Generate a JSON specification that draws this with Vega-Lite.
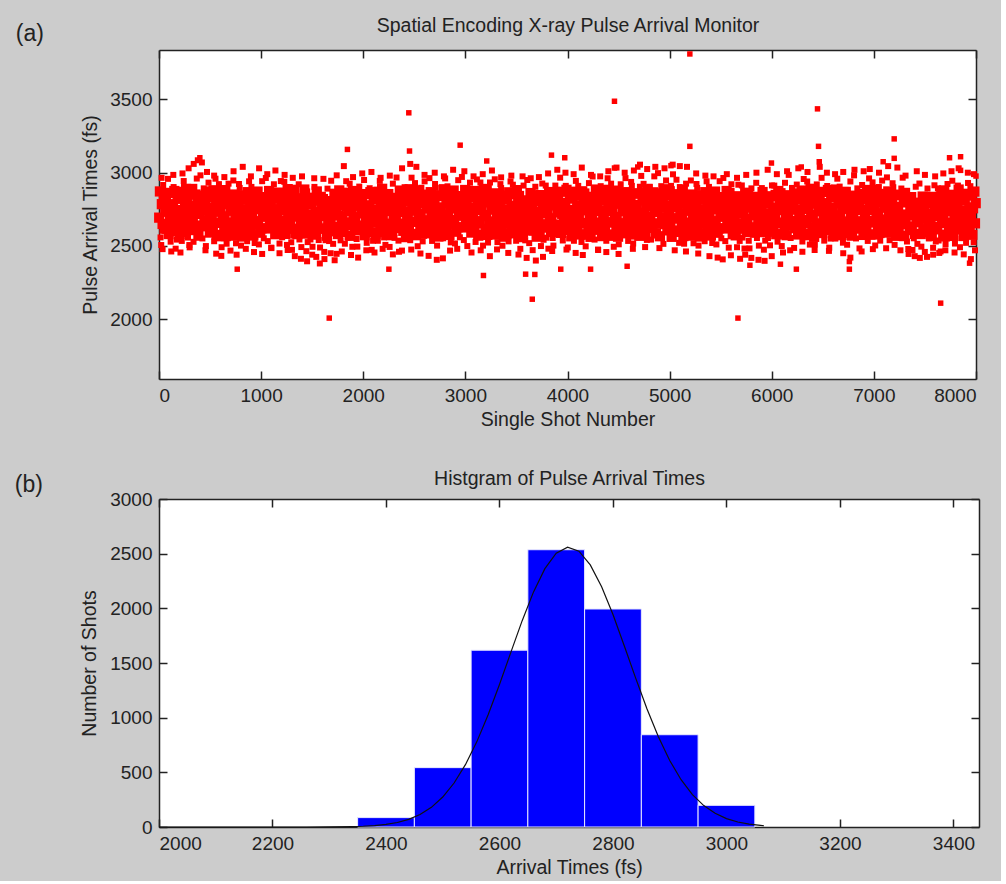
{
"$schema": "https://vega.github.io/schema/vega-lite/v6.json",
"background": "#cccccc",
"padding": {"left": 14, "top": 15, "right": 20, "bottom": 4},
"config": {
  "font": "Liberation Sans",
  "view": {"fill": "white", "stroke": null},
  "concat": {"spacing": 39},
  "axis": {"labelFont": "Liberation Sans", "labelFontSize": 19, "labelColor": "#222", "titleFont": "Liberation Sans", "titleFontSize": 19.5, "titleFontWeight": "normal", "titleColor": "#222", "domainColor": "#222", "domainWidth": 1.5, "tickColor": "#222", "tickWidth": 1.5, "tickSize": -8, "labelPadding": 15, "grid": false, "format": "d"},
  "title": {"font": "Liberation Sans", "fontSize": 23, "fontWeight": "normal", "color": "#222"}
},
"vconcat": [
{
  "width": 817, "height": 329,
  "title": {"text": "(a)", "anchor": "start", "frame": "bounds", "dx": -65, "dy": 31, "offset": 0},
  "data": {"values": "s,t\n2,2693\n9,2872\n15,2558\n22,2506\n28,2785\n35,2650\n41,2916\n48,2825\n54,2618\n61,2733\n69,2823\n75,2617\n82,2752\n88,2958\n95,2581\n101,2862\n108,2711\n114,2529\n121,2784\n127,2670\n130,2641\n137,2783\n143,2902\n150,2875\n156,2601\n163,2481\n169,2730\n176,2543\n182,2824\n189,2694\n197,2745\n203,2584\n210,2822\n216,2660\n223,2534\n229,2869\n236,2691\n242,2943\n249,2627\n255,2776\n258,2594\n265,2889\n271,2689\n278,2825\n284,2557\n291,2738\n297,2506\n304,2852\n310,2635\n317,2773\n325,2889\n331,2687\n338,2528\n344,2774\n351,2608\n357,2851\n364,2638\n370,2960\n377,2719\n383,2820\n386,2570\n393,2791\n399,2718\n406,2982\n412,2843\n419,2637\n425,2551\n432,2746\n438,2893\n445,2668\n453,2804\n459,2499\n466,2872\n472,2634\n479,2762\n485,2932\n492,2680\n498,2591\n505,2833\n511,2726\n514,2714\n521,2843\n527,2613\n534,2880\n540,2532\n547,2658\n553,2959\n560,2790\n566,2575\n573,2761\n581,2658\n587,2922\n594,2566\n600,2733\n607,2823\n613,2491\n620,2872\n626,2693\n633,2786\n639,2605\n642,2702\n649,2881\n655,2567\n662,2515\n668,2794\n675,2659\n681,2925\n688,2834\n694,2627\n701,2742\n709,2812\n715,2606\n722,2741\n728,2947\n735,2570\n741,2851\n748,2700\n754,2518\n761,2773\n767,2659\n770,2662\n777,2804\n783,2923\n790,2896\n796,2622\n803,2502\n809,2751\n816,2564\n822,2845\n829,2715\n837,2743\n843,2582\n850,2820\n856,2658\n863,2532\n869,2867\n876,2689\n882,2941\n889,2625\n895,2774\n898,2608\n905,2903\n911,2703\n918,2839\n924,2571\n931,2752\n937,2520\n944,2866\n950,2649\n957,2787\n965,2871\n971,2669\n978,2510\n984,2756\n991,2590\n997,2833\n1004,2620\n1010,2942\n1017,2701\n1023,2802\n1026,2552\n1033,2773\n1039,2700\n1046,2964\n1052,2825\n1059,2619\n1065,2533\n1072,2728\n1078,2875\n1085,2650\n1093,2793\n1099,2488\n1106,2861\n1112,2623\n1119,2751\n1125,2921\n1132,2669\n1138,2580\n1145,2822\n1151,2715\n1154,2698\n1161,2827\n1167,2597\n1174,2864\n1180,2516\n1187,2642\n1193,2943\n1200,2774\n1206,2559\n1213,2745\n1221,2674\n1227,2938\n1234,2582\n1240,2749\n1247,2839\n1253,2507\n1260,2888\n1266,2709\n1273,2802\n1279,2621\n1282,2660\n1289,2839\n1295,2525\n1302,2473\n1308,2752\n1315,2617\n1321,2883\n1328,2792\n1334,2585\n1341,2700\n1349,2786\n1355,2580\n1362,2715\n1368,2921\n1375,2544\n1381,2825\n1388,2674\n1394,2492\n1401,2747\n1407,2633\n1410,2624\n1417,2766\n1423,2885\n1430,2858\n1436,2584\n1443,2464\n1449,2713\n1456,2526\n1462,2807\n1469,2677\n1477,2705\n1483,2544\n1490,2782\n1496,2620\n1503,2494\n1509,2829\n1516,2651\n1522,2903\n1529,2587\n1535,2736\n1538,2577\n1545,2872\n1551,2672\n1558,2808\n1564,2540\n1571,2721\n1577,2489\n1584,2835\n1590,2618\n1597,2756\n1605,2820\n1611,2618\n1618,2459\n1624,2705\n1631,2539\n1637,2782\n1644,2569\n1650,2891\n1657,2650\n1663,2751\n1666,2533\n1673,2754\n1679,2681\n1686,2945\n1692,2806\n1699,2600\n1705,2514\n1712,2709\n1718,2856\n1725,2631\n1733,2751\n1739,2446\n1746,2819\n1752,2581\n1759,2709\n1765,2879\n1772,2627\n1778,2538\n1785,2780\n1791,2673\n1794,2697\n1801,2826\n1807,2596\n1814,2863\n1820,2515\n1827,2641\n1833,2942\n1840,2773\n1846,2558\n1853,2744\n1861,2661\n1867,2925\n1874,2569\n1880,2736\n1887,2826\n1893,2494\n1900,2875\n1906,2696\n1913,2789\n1919,2608\n1922,2682\n1929,2861\n1935,2547\n1942,2495\n1948,2774\n1955,2639\n1961,2905\n1968,2814\n1974,2607\n1981,2722\n1989,2815\n1995,2609\n2002,2744\n2008,2950\n2015,2573\n2021,2854\n2028,2703\n2034,2521\n2041,2776\n2047,2662\n2050,2633\n2057,2775\n2063,2894\n2070,2867\n2076,2593\n2083,2473\n2089,2722\n2096,2535\n2102,2816\n2109,2686\n2117,2746\n2123,2585\n2130,2823\n2136,2661\n2143,2535\n2149,2870\n2156,2692\n2162,2944\n2169,2628\n2175,2777\n2178,2595\n2185,2890\n2191,2690\n2198,2826\n2204,2558\n2211,2739\n2217,2507\n2224,2853\n2230,2636\n2237,2774\n2245,2854\n2251,2652\n2258,2493\n2264,2739\n2271,2573\n2277,2816\n2284,2603\n2290,2925\n2297,2684\n2303,2785\n2306,2555\n2313,2776\n2319,2703\n2326,2967\n2332,2828\n2339,2622\n2345,2536\n2352,2731\n2358,2878\n2365,2653\n2373,2773\n2379,2468\n2386,2841\n2392,2603\n2399,2731\n2405,2901\n2412,2649\n2418,2560\n2425,2802\n2431,2695\n2434,2721\n2441,2850\n2447,2620\n2454,2887\n2460,2539\n2467,2665\n2473,2966\n2480,2797\n2486,2582\n2493,2768\n2501,2665\n2507,2929\n2514,2573\n2520,2740\n2527,2830\n2533,2498\n2540,2879\n2546,2700\n2553,2793\n2559,2612\n2562,2718\n2569,2897\n2575,2583\n2582,2531\n2588,2810\n2595,2675\n2601,2941\n2608,2850\n2614,2643\n2621,2758\n2629,2828\n2635,2622\n2642,2757\n2648,2963\n2655,2586\n2661,2867\n2668,2716\n2674,2534\n2681,2789\n2687,2675\n2690,2662\n2697,2804\n2703,2923\n2710,2896\n2716,2622\n2723,2502\n2729,2751\n2736,2564\n2742,2845\n2749,2715\n2757,2763\n2763,2602\n2770,2840\n2776,2678\n2783,2552\n2789,2887\n2796,2709\n2802,2961\n2809,2645\n2815,2794\n2818,2612\n2825,2907\n2831,2707\n2838,2843\n2844,2575\n2851,2756\n2857,2524\n2864,2870\n2870,2653\n2877,2791\n2885,2878\n2891,2676\n2898,2517\n2904,2763\n2911,2597\n2917,2840\n2924,2627\n2930,2949\n2937,2708\n2943,2809\n2946,2559\n2953,2780\n2959,2707\n2966,2971\n2972,2832\n2979,2626\n2985,2540\n2992,2735\n2998,2882\n3005,2657\n3013,2804\n3019,2499\n3026,2872\n3032,2634\n3039,2762\n3045,2932\n3052,2680\n3058,2591\n3065,2833\n3071,2726\n3074,2709\n3081,2838\n3087,2608\n3094,2875\n3100,2527\n3107,2653\n3113,2954\n3120,2785\n3126,2570\n3133,2756\n3141,2669\n3147,2933\n3154,2577\n3160,2744\n3167,2834\n3173,2502\n3180,2883\n3186,2704\n3193,2797\n3199,2616\n3202,2710\n3209,2889\n3215,2575\n3222,2523\n3228,2802\n3235,2667\n3241,2933\n3248,2842\n3254,2635\n3261,2750\n3269,2820\n3275,2614\n3282,2749\n3288,2955\n3295,2578\n3301,2859\n3308,2708\n3314,2526\n3321,2781\n3327,2667\n3330,2661\n3337,2803\n3343,2922\n3350,2895\n3356,2621\n3363,2501\n3369,2750\n3376,2563\n3382,2844\n3389,2714\n3397,2742\n3403,2581\n3410,2819\n3416,2657\n3423,2531\n3429,2866\n3436,2688\n3442,2940\n3449,2624\n3455,2773\n3458,2623\n3465,2918\n3471,2718\n3478,2854\n3484,2586\n3491,2767\n3497,2535\n3504,2881\n3510,2664\n3517,2802\n3525,2841\n3531,2639\n3538,2480\n3544,2726\n3551,2560\n3557,2803\n3564,2590\n3570,2912\n3577,2671\n3583,2772\n3586,2538\n3593,2759\n3599,2686\n3606,2950\n3612,2811\n3619,2605\n3625,2519\n3632,2714\n3638,2861\n3645,2636\n3653,2776\n3659,2471\n3666,2844\n3672,2606\n3679,2734\n3685,2904\n3692,2652\n3698,2563\n3705,2805\n3711,2698\n3714,2681\n3721,2810\n3727,2580\n3734,2847\n3740,2499\n3747,2625\n3753,2926\n3760,2757\n3766,2542\n3773,2728\n3781,2648\n3787,2912\n3794,2556\n3800,2723\n3807,2813\n3813,2481\n3820,2862\n3826,2683\n3833,2776\n3839,2595\n3842,2689\n3849,2868\n3855,2554\n3862,2502\n3868,2781\n3875,2646\n3881,2912\n3888,2821\n3894,2614\n3901,2729\n3909,2831\n3915,2625\n3922,2760\n3928,2966\n3935,2589\n3941,2870\n3948,2719\n3954,2537\n3961,2792\n3967,2678\n3970,2649\n3977,2791\n3983,2910\n3990,2883\n3996,2609\n4003,2489\n4009,2738\n4016,2551\n4022,2832\n4029,2702\n4037,2746\n4043,2585\n4050,2823\n4056,2661\n4063,2535\n4069,2870\n4076,2692\n4082,2944\n4089,2628\n4095,2777\n4098,2615\n4105,2910\n4111,2710\n4118,2846\n4124,2578\n4131,2759\n4137,2527\n4144,2873\n4150,2656\n4157,2794\n4165,2858\n4171,2656\n4178,2497\n4184,2743\n4191,2577\n4197,2820\n4204,2607\n4210,2929\n4217,2688\n4223,2789\n4226,2562\n4233,2783\n4239,2710\n4246,2974\n4252,2835\n4259,2629\n4265,2543\n4272,2738\n4278,2885\n4285,2660\n4293,2780\n4299,2475\n4306,2848\n4312,2610\n4319,2738\n4325,2908\n4332,2656\n4338,2567\n4345,2809\n4351,2702\n4354,2717\n4361,2846\n4367,2616\n4374,2883\n4380,2535\n4387,2661\n4393,2962\n4400,2793\n4406,2578\n4413,2764\n4421,2661\n4427,2925\n4434,2569\n4440,2736\n4447,2826\n4453,2494\n4460,2875\n4466,2696\n4473,2789\n4479,2608\n4482,2698\n4489,2877\n4495,2563\n4502,2511\n4508,2790\n4515,2655\n4521,2921\n4528,2830\n4534,2623\n4541,2738\n4549,2828\n4555,2622\n4562,2757\n4568,2963\n4575,2586\n4581,2867\n4588,2716\n4594,2534\n4601,2789\n4607,2675\n4610,2676\n4617,2818\n4623,2937\n4630,2910\n4636,2636\n4643,2516\n4649,2765\n4656,2578\n4662,2859\n4669,2729\n4677,2780\n4683,2619\n4690,2857\n4696,2695\n4703,2569\n4709,2904\n4716,2726\n4722,2978\n4729,2662\n4735,2811\n4738,2629\n4745,2924\n4751,2724\n4758,2860\n4764,2592\n4771,2773\n4777,2541\n4784,2887\n4790,2670\n4797,2808\n4805,2904\n4811,2702\n4818,2543\n4824,2789\n4831,2623\n4837,2866\n4844,2653\n4850,2975\n4857,2734\n4863,2835\n4866,2585\n4873,2806\n4879,2733\n4886,2997\n4892,2858\n4899,2652\n4905,2566\n4912,2761\n4918,2908\n4925,2683\n4933,2819\n4939,2514\n4946,2887\n4952,2649\n4959,2777\n4965,2947\n4972,2695\n4978,2606\n4985,2848\n4991,2741\n4994,2744\n5001,2873\n5007,2643\n5014,2910\n5020,2562\n5027,2688\n5033,2989\n5040,2820\n5046,2605\n5053,2791\n5061,2688\n5067,2952\n5074,2596\n5080,2763\n5087,2853\n5093,2521\n5100,2902\n5106,2723\n5113,2816\n5119,2635\n5122,2702\n5129,2881\n5135,2567\n5142,2515\n5148,2794\n5155,2659\n5161,2925\n5168,2834\n5174,2627\n5181,2742\n5189,2812\n5195,2606\n5202,2741\n5208,2947\n5215,2570\n5221,2851\n5228,2700\n5234,2518\n5241,2773\n5247,2659\n5250,2662\n5257,2804\n5263,2923\n5270,2896\n5276,2622\n5283,2502\n5289,2751\n5296,2564\n5302,2845\n5309,2715\n5317,2743\n5323,2582\n5330,2820\n5336,2658\n5343,2532\n5349,2867\n5356,2689\n5362,2941\n5369,2625\n5375,2774\n5378,2608\n5385,2903\n5391,2703\n5398,2839\n5404,2571\n5411,2752\n5417,2520\n5424,2866\n5430,2649\n5437,2787\n5445,2871\n5451,2669\n5458,2510\n5464,2756\n5471,2590\n5477,2833\n5484,2620\n5490,2942\n5497,2701\n5503,2802\n5506,2552\n5513,2773\n5519,2700\n5526,2964\n5532,2825\n5539,2619\n5545,2533\n5552,2728\n5558,2875\n5565,2650\n5573,2793\n5579,2488\n5586,2861\n5592,2623\n5599,2751\n5605,2921\n5612,2669\n5618,2580\n5625,2822\n5631,2715\n5634,2673\n5641,2802\n5647,2572\n5654,2839\n5660,2491\n5667,2617\n5673,2918\n5680,2749\n5686,2534\n5693,2720\n5701,2649\n5707,2913\n5714,2557\n5720,2724\n5727,2814\n5733,2482\n5740,2863\n5746,2684\n5753,2777\n5759,2596\n5762,2670\n5769,2849\n5775,2535\n5782,2483\n5788,2762\n5795,2627\n5801,2893\n5808,2802\n5814,2595\n5821,2710\n5829,2796\n5835,2590\n5842,2725\n5848,2931\n5855,2554\n5861,2835\n5868,2684\n5874,2502\n5881,2757\n5887,2643\n5890,2634\n5897,2776\n5903,2895\n5910,2868\n5916,2594\n5923,2474\n5929,2723\n5936,2536\n5942,2817\n5949,2687\n5957,2715\n5963,2554\n5970,2792\n5976,2630\n5983,2504\n5989,2839\n5996,2661\n6002,2913\n6009,2597\n6015,2746\n6018,2617\n6025,2912\n6031,2712\n6038,2848\n6044,2580\n6051,2761\n6057,2529\n6064,2875\n6070,2658\n6077,2796\n6085,2860\n6091,2658\n6098,2499\n6104,2745\n6111,2579\n6117,2822\n6124,2609\n6130,2931\n6137,2690\n6143,2791\n6146,2573\n6153,2794\n6159,2721\n6166,2985\n6172,2846\n6179,2640\n6185,2554\n6192,2749\n6198,2896\n6205,2671\n6213,2791\n6219,2486\n6226,2859\n6232,2621\n6239,2749\n6245,2919\n6252,2667\n6258,2578\n6265,2820\n6271,2713\n6274,2712\n6281,2841\n6287,2611\n6294,2878\n6300,2530\n6307,2656\n6313,2957\n6320,2788\n6326,2573\n6333,2759\n6341,2676\n6347,2940\n6354,2584\n6360,2751\n6367,2841\n6373,2509\n6380,2890\n6386,2711\n6393,2804\n6399,2623\n6402,2697\n6409,2876\n6415,2562\n6422,2510\n6428,2789\n6435,2654\n6441,2920\n6448,2829\n6454,2622\n6461,2737\n6469,2830\n6475,2624\n6482,2759\n6488,2965\n6495,2588\n6501,2869\n6508,2718\n6514,2536\n6521,2791\n6527,2677\n6530,2648\n6537,2790\n6543,2909\n6550,2882\n6556,2608\n6563,2488\n6569,2737\n6576,2550\n6582,2831\n6589,2701\n6597,2761\n6603,2600\n6610,2838\n6616,2676\n6623,2550\n6629,2885\n6636,2707\n6642,2959\n6649,2643\n6655,2792\n6658,2610\n6665,2905\n6671,2705\n6678,2841\n6684,2573\n6691,2754\n6697,2522\n6704,2868\n6710,2651\n6717,2789\n6725,2869\n6731,2667\n6738,2508\n6744,2754\n6751,2588\n6757,2831\n6764,2618\n6770,2940\n6777,2699\n6783,2800\n6786,2570\n6793,2791\n6799,2718\n6806,2982\n6812,2843\n6819,2637\n6825,2551\n6832,2746\n6838,2893\n6845,2668\n6853,2788\n6859,2483\n6866,2856\n6872,2618\n6879,2746\n6885,2916\n6892,2664\n6898,2575\n6905,2817\n6911,2710\n6914,2716\n6921,2845\n6927,2615\n6934,2882\n6940,2534\n6947,2660\n6953,2961\n6960,2792\n6966,2577\n6973,2763\n6981,2670\n6987,2934\n6994,2578\n7000,2745\n7007,2835\n7013,2503\n7020,2884\n7026,2705\n7033,2798\n7039,2617\n7042,2723\n7049,2902\n7055,2588\n7062,2536\n7068,2815\n7075,2680\n7081,2946\n7088,2855\n7094,2648\n7101,2763\n7109,2833\n7115,2627\n7122,2762\n7128,2968\n7135,2591\n7141,2872\n7148,2721\n7154,2539\n7161,2794\n7167,2680\n7170,2667\n7177,2809\n7183,2928\n7190,2901\n7196,2627\n7203,2507\n7209,2756\n7216,2569\n7222,2850\n7229,2720\n7237,2768\n7243,2607\n7250,2845\n7256,2683\n7263,2557\n7269,2892\n7276,2714\n7282,2966\n7289,2650\n7295,2799\n7298,2567\n7305,2862\n7311,2662\n7318,2798\n7324,2530\n7331,2711\n7337,2479\n7344,2825\n7350,2608\n7357,2746\n7365,2833\n7371,2631\n7378,2472\n7384,2718\n7391,2552\n7397,2795\n7404,2582\n7410,2904\n7417,2663\n7423,2764\n7426,2514\n7433,2735\n7439,2662\n7446,2926\n7452,2787\n7459,2581\n7465,2495\n7472,2690\n7478,2837\n7485,2612\n7493,2764\n7499,2459\n7506,2832\n7512,2594\n7519,2722\n7525,2892\n7532,2640\n7538,2551\n7545,2793\n7551,2686\n7554,2669\n7561,2798\n7567,2568\n7574,2835\n7580,2487\n7587,2613\n7593,2914\n7600,2745\n7606,2530\n7613,2716\n7621,2629\n7627,2893\n7634,2537\n7640,2704\n7647,2794\n7653,2462\n7660,2843\n7666,2664\n7673,2757\n7679,2576\n7682,2700\n7689,2879\n7695,2565\n7702,2513\n7708,2792\n7715,2657\n7721,2923\n7728,2832\n7734,2625\n7741,2740\n7749,2810\n7755,2604\n7762,2739\n7768,2945\n7775,2568\n7781,2849\n7788,2698\n7794,2516\n7801,2771\n7807,2657\n7810,2651\n7817,2793\n7823,2912\n7830,2885\n7836,2611\n7843,2491\n7849,2740\n7856,2553\n7862,2834\n7869,2704\n7877,2732\n7883,2571\n7890,2809\n7896,2647\n7903,2521\n7909,2856\n7916,2678\n7922,2930\n7929,2614\n7935,2763\n7938,2613\n7945,2908\n7951,2708\n7958,2844\n7964,2576\n7971,2757\n7977,2525\n7984,2871\n7990,2654\n7997,2792\n35,2478\n120,2462\n210,2455\n300,2490\n455,2470\n560,2447\n610,2432\n700,2468\n760,2440\n850,2480\n930,2458\n1010,2445\n1100,2485\n1180,2450\n1260,2472\n1330,2430\n1390,2412\n1450,2395\n1500,2440\n1540,2425\n1575,2380\n1620,2410\n1680,2450\n1720,2402\n1790,2462\n1880,2438\n1950,2420\n2030,2470\n2110,2455\n2190,2480\n2290,2442\n2350,2460\n2470,2475\n2560,2448\n2640,2432\n2720,2405\n2780,2415\n2850,2468\n2920,2480\n3060,2455\n3150,2470\n3240,2430\n3310,2476\n3420,2452\n3520,2441\n3600,2418\n3690,2400\n3760,2425\n3850,2465\n3990,2475\n4080,2452\n4150,2438\n4300,2472\n4380,2458\n4500,2445\n4640,2480\n4760,2492\n4900,2485\n5050,2470\n5160,2462\n5280,2448\n5390,2430\n5470,2420\n5520,2408\n5600,2436\n5690,2412\n5740,2440\n5800,2418\n5870,2405\n5930,2398\n6000,2430\n6110,2455\n6180,2470\n6300,2460\n6420,2472\n6560,2466\n6700,2450\n6770,2420\n6880,2462\n6990,2478\n7120,2484\n7260,2470\n7340,2445\n7400,2430\n7450,2418\n7520,2425\n7580,2440\n7640,2452\n7700,2470\n7790,2455\n7880,2442\n7950,2410\n7990,2470\n25,2965\n140,2985\n230,2995\n290,3030\n340,3060\n380,3085\n420,3070\n470,3005\n540,2980\n640,2970\n730,3010\n820,3040\n900,2975\n980,3030\n1060,2990\n1140,3015\n1230,2985\n1310,2965\n1400,2975\n1520,2962\n1610,2958\n1740,2982\n1810,3045\n1900,2970\n1990,2995\n2080,3005\n2170,2965\n2260,2980\n2380,3030\n2460,3060\n2520,3040\n2600,2985\n2700,3000\n2790,2975\n2880,3020\n2990,3010\n3080,2975\n3170,2990\n3260,3015\n3350,2968\n3450,2980\n3560,2975\n3640,2962\n3720,2970\n3810,2995\n3900,3020\n3980,3000\n4060,2990\n4140,3035\n4230,2985\n4320,2975\n4400,3010\n4480,3035\n4560,3000\n4650,3015\n4710,3055\n4780,3025\n4860,3040\n4950,3030\n5030,3055\n5100,3045\n5170,3040\n5260,2995\n5350,2980\n5430,2975\n5560,2990\n5660,2965\n5750,2985\n5850,3000\n5960,3020\n6050,2990\n6150,3010\n6260,3030\n6350,3005\n6470,3040\n6540,3000\n6620,2990\n6700,3005\n6810,3020\n6900,3010\n6960,3025\n7050,3000\n7140,3045\n7230,3035\n7310,2980\n7420,3010\n7500,2985\n7600,2975\n7680,2995\n7760,3010\n7830,3030\n7920,3000\n7980,2990", "format": {"type": "csv", "parse": {"s": "number", "t": "number"}}},
  "layer": [
    {
      "transform": [{"filter": "datum.t >= 2560 && datum.t <= 2890"}],
      "mark": {"type": "point", "shape": "square", "filled": true, "size": 105, "color": "#ff0000", "opacity": 1},
      "encoding": {
        "x": {"field": "s", "type": "quantitative", "scale": {"domain": [0, 8000], "nice": false}, "axis": {"title": "Single Shot Number", "values": [0, 1000, 2000, 3000, 4000, 5000, 6000, 7000, 8000], "titlePadding": 5}},
        "y": {"field": "t", "type": "quantitative", "scale": {"domain": [1591, 3838], "nice": false, "zero": false}, "axis": {"title": "Pulse Arrival Times (fs)", "values": [2000, 2500, 3000, 3500], "titlePadding": 9}}
      }
    },
    {
      "transform": [{"filter": "datum.t < 2560 || datum.t > 2890"}],
      "mark": {"type": "point", "shape": "square", "filled": true, "size": 36, "color": "#ff0000", "opacity": 1},
      "encoding": {
        "x": {"field": "s", "type": "quantitative", "scale": {"domain": [0, 8000], "nice": false}, "axis": null},
        "y": {"field": "t", "type": "quantitative", "scale": {"domain": [1591, 3838], "nice": false, "zero": false}, "axis": null}
      }
    },
    {
      "data": {"values": "s,t\n1667,2007\n5669,2007\n7654,2109\n3655,2136\n3590,2307\n3680,2305\n3177,2298\n766,2341\n2251,2341\n3934,2341\n4226,2341\n4584,2361\n6085,2375\n6241,2341\n6760,2341\n6760,2393\n5786,2368\n7937,2382\n2446,3409\n2453,3148\n2949,3188\n1845,3159\n3209,3080\n400,3102\n5198,3811\n4460,3488\n6448,3436\n5198,3180\n6458,3180\n6465,3075\n7199,3231\n7199,3098\n7741,3102\n7849,3109\n7849,3016\n3843,3120\n3973,3102\n5997,3066\n6289,3039\n7091,3075\n4688,3039\n5013,3048\n4460,3032\n8000,2977", "format": {"type": "csv", "parse": {"s": "number", "t": "number"}}},
      "mark": {"type": "point", "shape": "square", "filled": true, "size": 30, "color": "#ff0000", "opacity": 1},
      "encoding": {
        "x": {"field": "s", "type": "quantitative", "scale": {"domain": [0, 8000], "nice": false}, "axis": {"orient": "top", "labels": false, "title": "Spatial Encoding X-ray Pulse Arrival Monitor", "values": [0, 1000, 2000, 3000, 4000, 5000, 6000, 7000, 8000], "titlePadding": 14}},
        "y": {"field": "t", "type": "quantitative", "scale": {"domain": [1591, 3838], "nice": false, "zero": false}, "axis": {"orient": "right", "labels": false, "title": null, "values": [2000, 2500, 3000, 3500]}}
      }
    }
  ],
  "resolve": {"axis": {"x": "independent", "y": "independent"}}
},
{
  "width": 820, "height": 328,
  "title": {"text": "(b)", "anchor": "start", "frame": "bounds", "dx": -65, "dy": 29, "offset": 0},
  "layer": [
    {
      "data": {"values": [
        {"lo": 2350, "hi": 2450, "n": 86},
        {"lo": 2450, "hi": 2550, "n": 543},
        {"lo": 2550, "hi": 2650, "n": 1617},
        {"lo": 2650, "hi": 2750, "n": 2536},
        {"lo": 2750, "hi": 2850, "n": 1994},
        {"lo": 2850, "hi": 2950, "n": 844},
        {"lo": 2950, "hi": 3050, "n": 198}
      ]},
      "mark": {"type": "rect", "color": "#0000ff", "stroke": "#e8e8ff", "strokeWidth": 1},
      "encoding": {
        "x": {"field": "lo", "type": "quantitative", "scale": {"domain": [2000, 3445], "nice": false, "zero": false}, "axis": {"title": "Arrival Times (fs)", "values": [2000, 2200, 2400, 2600, 2800, 3000, 3200, 3400], "titlePadding": 5}},
        "x2": {"field": "hi"},
        "y": {"field": "n", "type": "quantitative", "scale": {"domain": [0, 3000], "nice": false}, "axis": {"title": "Number of Shots", "values": [0, 500, 1000, 1500, 2000, 2500, 3000], "titlePadding": 10}},
        "y2": {"datum": 0}
      }
    },
    {
      "data": {"values": [
        {"a": 2000, "f": 0}, {"a": 2100, "f": 0}, {"a": 2200, "f": 0}, {"a": 2260, "f": 0.2}, {"a": 2300, "f": 0.8},
        {"a": 2340, "f": 3.4}, {"a": 2360, "f": 6.7}, {"a": 2380, "f": 12.7}, {"a": 2400, "f": 23.2}, {"a": 2420, "f": 40.9},
        {"a": 2440, "f": 69.5}, {"a": 2460, "f": 113.8}, {"a": 2480, "f": 179.8}, {"a": 2500, "f": 273.9}, {"a": 2520, "f": 402.4},
        {"a": 2540, "f": 569.9}, {"a": 2560, "f": 778.7}, {"a": 2580, "f": 1025.9}, {"a": 2600, "f": 1303.6}, {"a": 2620, "f": 1597.2},
        {"a": 2640, "f": 1887.2}, {"a": 2660, "f": 2150.4}, {"a": 2680, "f": 2363.1}, {"a": 2700, "f": 2504.5}, {"a": 2720, "f": 2559.5},
        {"a": 2740, "f": 2522.6}, {"a": 2760, "f": 2397.7}, {"a": 2780, "f": 2197.8}, {"a": 2800, "f": 1942.8}, {"a": 2820, "f": 1656.1},
        {"a": 2840, "f": 1361.4}, {"a": 2860, "f": 1079.3}, {"a": 2880, "f": 825.1}, {"a": 2900, "f": 608.5}, {"a": 2920, "f": 432.6},
        {"a": 2940, "f": 296.7}, {"a": 2960, "f": 196.1}, {"a": 2980, "f": 125.1}, {"a": 3000, "f": 76.9}, {"a": 3020, "f": 45.6},
        {"a": 3040, "f": 26.1}, {"a": 3060, "f": 14.4}, {"a": 3066, "f": 11.5}
      ]},
      "mark": {"type": "line", "color": "#111111", "strokeWidth": 1.2},
      "encoding": {
        "x": {"field": "a", "type": "quantitative", "scale": {"domain": [2000, 3445], "nice": false, "zero": false}, "axis": {"orient": "top", "labels": false, "title": "Histgram of Pulse Arrival Times", "values": [2000, 2200, 2400, 2600, 2800, 3000, 3200, 3400], "titlePadding": 10}},
        "y": {"field": "f", "type": "quantitative", "scale": {"domain": [0, 3000], "nice": false}, "axis": {"orient": "right", "labels": false, "title": null, "values": [0, 500, 1000, 1500, 2000, 2500, 3000]}}
      }
    }
  ],
  "resolve": {"axis": {"x": "independent", "y": "independent"}}
}
]
}
